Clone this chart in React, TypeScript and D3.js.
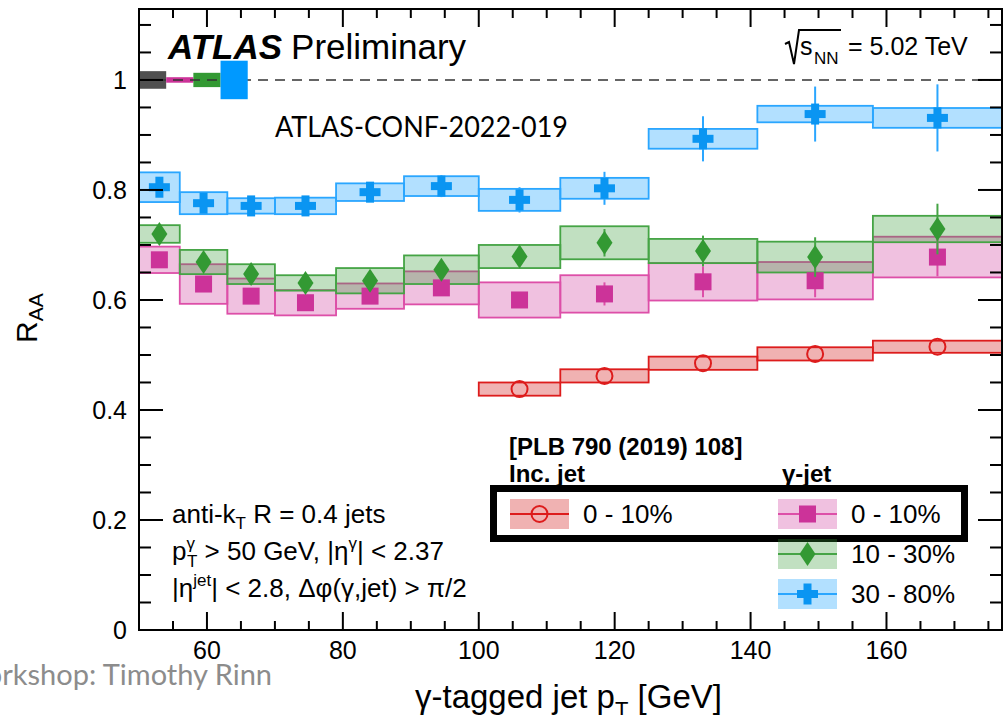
import React from "react";
import * as d3 from "d3";

// pT bin edges and centres [GeV]
const binEdges = [50, 56, 63, 70, 79, 89, 100, 112, 125, 141, 158, 177];
const ptCentres = [53, 59.5, 66.5, 74.5, 84, 94.5, 106, 118.5, 133, 149.5, 167.5];

// gamma-jet 0-10%
const raa010 = [0.673, 0.629, 0.607, 0.595, 0.607, 0.622, 0.6, 0.611, 0.633, 0.635, 0.678];
const stat010 = [0.01, 0.012, 0.012, 0.012, 0.012, 0.012, 0.014, 0.021, 0.028, 0.03, 0.035];
const sys010 = [0.024, 0.036, 0.032, 0.023, 0.023, 0.03, 0.032, 0.034, 0.034, 0.034, 0.037];

// gamma-jet 10-30%
const raa1030 = [0.72, 0.669, 0.647, 0.631, 0.635, 0.655, 0.679, 0.704, 0.689, 0.678, 0.729];
const stat1030 = [0.01, 0.012, 0.012, 0.012, 0.012, 0.013, 0.015, 0.025, 0.028, 0.036, 0.046];
const sys1030 = [0.016, 0.022, 0.018, 0.014, 0.023, 0.026, 0.021, 0.03, 0.022, 0.028, 0.024];

// gamma-jet 30-80%
const raa3080 = [0.805, 0.776, 0.771, 0.771, 0.796, 0.807, 0.782, 0.803, 0.893, 0.938, 0.931];
const stat3080 = [0.012, 0.012, 0.012, 0.012, 0.012, 0.02, 0.023, 0.03, 0.041, 0.05, 0.061];
const sys3080 = [0.027, 0.02, 0.014, 0.015, 0.016, 0.018, 0.02, 0.019, 0.018, 0.015, 0.018];

// inclusive jets 0-10% (PLB 790 (2019) 108), from bin 6 on
const incFirstBin = 6;
const raaInc = [0.438, 0.462, 0.485, 0.502, 0.515];
const sysInc = [0.012, 0.012, 0.012, 0.012, 0.011];

// normalisation uncertainties drawn at unity
const normLabels = ["inc", "g010", "g1030", "g3080"];
const normEdges = [50, 54, 58, 62, 66];
const normUnc = [0.016, 0.005, 0.013, 0.035];
const normColors = ["#505050", "#cc3399", "#339933", "#0099ff"];

const xMajor = [60, 80, 100, 120, 140, 160];
const yMajor = [0, 0.2, 0.4, 0.6, 0.8, 1];

const W = 1004;
const H = 715;
const font = "'Liberation Sans', Arial, sans-serif";
const slideFont = "Lato, 'Open Sans', sans-serif";

const x = d3.scaleLinear().domain([50, 177]).range([139, 1002]);
const y = d3.scaleLinear().domain([0, 1.129]).range([630, 9]);

type Series = {
  key: string;
  vals: number[];
  stat: number[];
  sys: number[];
  first: number;
  line: string;
  fill: string;
  marker: string;
};

const series: Series[] = [
  { key: "inc", vals: raaInc, stat: raaInc.map(() => 0), sys: sysInc, first: incFirstBin, line: "#dd1c1c", fill: "rgba(204,0,0,0.3)", marker: "#dd1c1c" },
  { key: "g010", vals: raa010, stat: stat010, sys: sys010, first: 0, line: "#dd4fa8", fill: "rgba(204,51,153,0.3)", marker: "#cc3399" },
  { key: "g1030", vals: raa1030, stat: stat1030, sys: sys1030, first: 0, line: "#45a445", fill: "rgba(51,153,51,0.3)", marker: "#339933" },
  { key: "g3080", vals: raa3080, stat: stat3080, sys: sys3080, first: 0, line: "#2aa6ff", fill: "rgba(0,153,255,0.3)", marker: "#0a95f2" },
];

function Marker({ kind, cx, cy, color }: { kind: string; cx: number; cy: number; color: string }) {
  if (kind === "inc")
    return <circle cx={cx} cy={cy} r={8} fill="none" stroke={color} strokeWidth={2} />;
  if (kind === "g010")
    return <rect x={cx - 8.5} y={cy - 8.5} width={17} height={17} fill={color} />;
  if (kind === "g1030")
    return <path d={`M${cx},${cy - 12}L${cx + 8},${cy}L${cx},${cy + 12}L${cx - 8},${cy}Z`} fill={color} />;
  return (
    <g fill={color}>
      <rect x={cx - 10.5} y={cy - 4} width={21} height={8} />
      <rect x={cx - 4} y={cy - 10.5} width={8} height={21} />
    </g>
  );
}

function Axes() {
  const xMinor = d3.range(55, 177, 5).filter((v) => !xMajor.includes(v));
  const yMinor = d3.range(0.05, 1.129, 0.05).filter((v) => !yMajor.some((m) => Math.abs(m - v) < 1e-6));
  const [x0, x1] = x.range();
  const [y0, y1] = y.range();
  return (
    <g stroke="#000" strokeWidth={2}>
      <rect x={x0} y={y1} width={x1 - x0} height={y0 - y1} fill="none" />
      {xMajor.map((v) => (
        <g key={"xM" + v}>
          <line x1={x(v)} x2={x(v)} y1={y0} y2={y0 - 18} />
          <line x1={x(v)} x2={x(v)} y1={y1} y2={y1 + 18} />
        </g>
      ))}
      {xMinor.map((v) => (
        <g key={"xm" + v}>
          <line x1={x(v)} x2={x(v)} y1={y0} y2={y0 - 9} />
          <line x1={x(v)} x2={x(v)} y1={y1} y2={y1 + 9} />
        </g>
      ))}
      {yMajor.map((v) => (
        <g key={"yM" + v}>
          <line x1={x0} x2={x0 + 24} y1={y(v)} y2={y(v)} />
          <line x1={x1} x2={x1 - 24} y1={y(v)} y2={y(v)} />
        </g>
      ))}
      {yMinor.map((v) => (
        <g key={"ym" + v}>
          <line x1={x0} x2={x0 + 12} y1={y(v)} y2={y(v)} />
          <line x1={x1} x2={x1 - 12} y1={y(v)} y2={y(v)} />
        </g>
      ))}
      <g stroke="none" fill="#000" fontFamily={font} fontSize={25}>
        {xMajor.map((v) => (
          <text key={"xl" + v} x={x(v)} y={659} textAnchor="middle">{v}</text>
        ))}
        {yMajor.map((v) => (
          <text key={"yl" + v} x={127} y={y(v) + 9} textAnchor="end">{v === 0 || v === 1 ? String(v) : v.toFixed(1)}</text>
        ))}
      </g>
    </g>
  );
}

function Legend() {
  const rows = [
    { key: "inc", sx: 510, cy: 514, label: "0 - 10%" },
    { key: "g010", sx: 778, cy: 514, label: "0 - 10%" },
    { key: "g1030", sx: 778, cy: 554, label: "10 - 30%" },
    { key: "g3080", sx: 778, cy: 594, label: "30 - 80%" },
  ];
  return (
    <g fontFamily={font}>
      <text x={509} y={455} fontSize={24} fontWeight="bold">[PLB 790 (2019) 108]</text>
      <text x={509} y={482} fontSize={24} fontWeight="bold">Inc. jet</text>
      <text x={782} y={482} fontSize={24} fontWeight="bold">γ-jet</text>
      <rect x={493.5} y={488.5} width={471} height={50} fill="none" stroke="#000" strokeWidth={7} />
      {rows.map((r) => {
        const s = series.find((d) => d.key === r.key)!;
        return (
          <g key={r.key + r.cy}>
            <rect x={r.sx} y={r.cy - 15} width={59} height={30} fill={s.fill} />
            <line x1={r.sx} x2={r.sx + 59} y1={r.cy} y2={r.cy} stroke={s.line} strokeWidth={2} />
            <Marker kind={r.key} cx={r.sx + 29.5} cy={r.cy} color={s.marker} />
            <text x={r.sx + 73} y={r.cy + 9} fontSize={26}>{r.label}</text>
          </g>
        );
      })}
    </g>
  );
}

export default function App() {
  const order = ["inc", "g010", "g1030", "g3080"];
  return (
    <svg width={W} height={H} style={{ position: "absolute", left: 0, top: 0, background: "#fff" }}>
      <defs>
        <clipPath id="plot">
          <rect x={139} y={9} width={863} height={621} />
        </clipPath>
      </defs>

      {/* normalisation boxes at unity */}
      {normLabels.slice(0, 3).map((k, i) => (
        <rect key={k} x={x(normEdges[i])} y={y(1 + normUnc[i])} width={x(normEdges[i + 1]) - x(normEdges[i])} height={y(1 - normUnc[i]) - y(1 + normUnc[i])} fill={normColors[i]} />
      ))}
      <line x1={x(50)} x2={x(177)} y1={y(1)} y2={y(1)} stroke="#333" strokeWidth={1.6} strokeDasharray="10 7" />
      <rect x={x(normEdges[3])} y={y(1 + normUnc[3])} width={x(normEdges[4]) - x(normEdges[3])} height={y(1 - normUnc[3]) - y(1 + normUnc[3])} fill={normColors[3]} />

      {/* systematic boxes */}
      <g clipPath="url(#plot)">
        {order.map((k) => {
          const s = series.find((d) => d.key === k)!;
          return (
            <g key={"sys" + k}>
              {s.vals.map((v, i) => {
                const b = s.first + i;
                return (
                  <rect key={i} x={x(binEdges[b])} y={y(v + s.sys[i])} width={x(binEdges[b + 1]) - x(binEdges[b])} height={y(v - s.sys[i]) - y(v + s.sys[i])} fill={s.fill} stroke={s.line} strokeWidth={1.8} />
                );
              })}
            </g>
          );
        })}
        {/* stat bars and markers */}
        {order.map((k) => {
          const s = series.find((d) => d.key === k)!;
          return (
            <g key={"pts" + k}>
              {s.vals.map((v, i) => {
                const cx = x(ptCentres[s.first + i]);
                return (
                  <g key={i}>
                    {s.stat[i] > 0 && (
                      <line x1={cx} x2={cx} y1={y(v + s.stat[i])} y2={y(v - s.stat[i])} stroke={s.line} strokeWidth={2} />
                    )}
                    <Marker kind={k} cx={cx} cy={y(v)} color={s.marker} />
                  </g>
                );
              })}
            </g>
          );
        })}
      </g>

      <Axes />

      {/* labels */}
      <text x={168} y={59} fontFamily={font} fontSize={35} fill="#000">
        <tspan fontWeight="bold" fontStyle="italic">ATLAS</tspan>
        <tspan dx={9}>Preliminary</tspan>
      </text>
      <path d="M785,44 L789,42 L794,64 L799,30 L841,30" fill="none" stroke="#000" strokeWidth={2} />
      <text x={800} y={55} fontFamily={font} fontSize={25}>s</text>
      <text x={814} y={64} fontFamily={font} fontSize={17}>NN</text>
      <text x={848} y={55} fontFamily={font} fontSize={25}>= 5.02 TeV</text>
      <text x={275} y={137} fontFamily={slideFont} fontSize={28} textLength={293} lengthAdjust="spacingAndGlyphs">ATLAS-CONF-2022-019</text>

      <g fontFamily={font} fontSize={26}>
        <text x={172} y={523}>
          anti-k<tspan fontSize={17} dy={6}>T</tspan>
          <tspan dy={-6}> R = 0.4 jets</tspan>
        </text>
        <text x={172} y={560}>
          p<tspan fontSize={17} dy={-11}>γ</tspan>
          <tspan fontSize={17} dx={-8} dy={18}>T</tspan>
          <tspan dy={-7}> &gt; 50 GeV, |η</tspan>
          <tspan fontSize={17} dy={-11}>γ</tspan>
          <tspan dy={11}>| &lt; 2.37</tspan>
        </text>
        <text x={172} y={597}>
          |η<tspan fontSize={17} dy={-11}>jet</tspan>
          <tspan dy={11}>| &lt; 2.8, Δφ(γ,jet) &gt; π/2</tspan>
        </text>
      </g>

      <Legend />

      <text transform="rotate(-90)" x={-343} y={37} fontFamily={font} fontSize={30}>
        R<tspan fontSize={21} dy={6}>AA</tspan>
      </text>
      <text x={415} y={708} fontFamily={font} fontSize={33}>
        γ-tagged jet p<tspan fontSize={22} dy={9}>T</tspan>
        <tspan dy={-9}> [GeV]</tspan>
      </text>

      <text x={272} y={685} textAnchor="end" fontFamily={slideFont} fontSize={29} fill="#8c8c8c">Workshop: Timothy Rinn</text>
    </svg>
  );
}
